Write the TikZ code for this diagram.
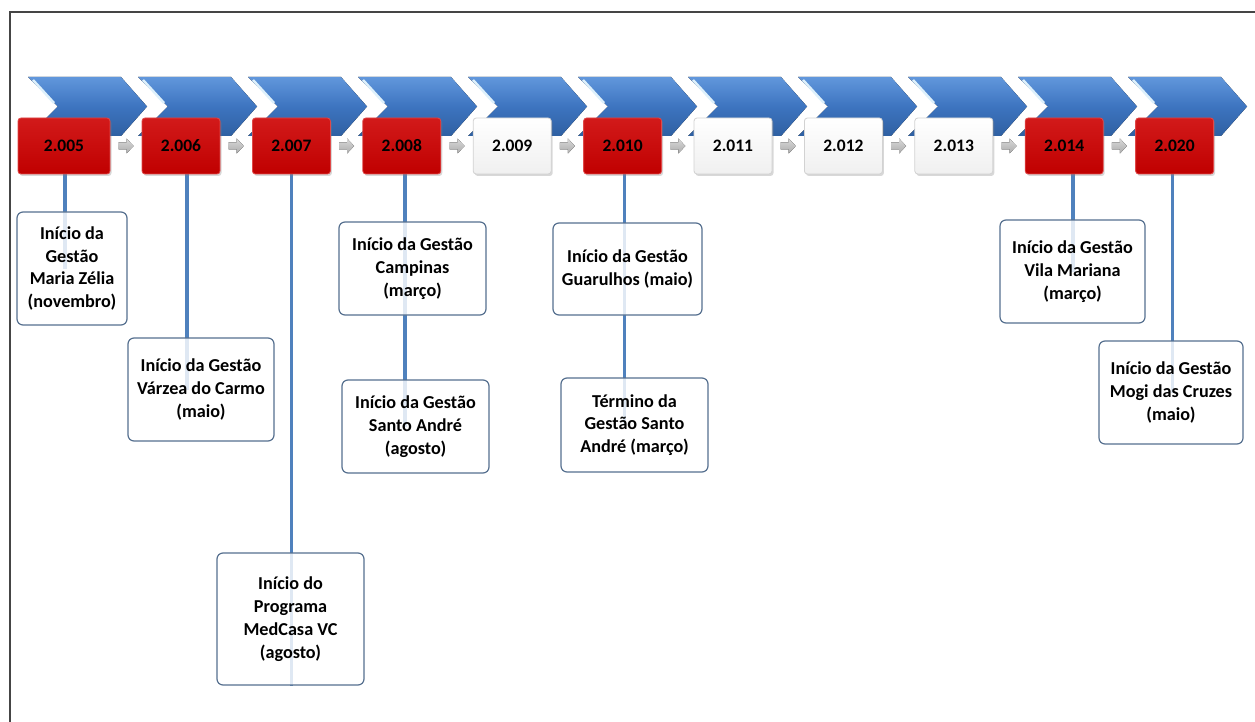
\documentclass[tikz,border=0pt]{standalone}
\usepackage{fontspec}
\setmainfont{Carlito}
\usetikzlibrary{shadows,backgrounds}

\definecolor{chevtop}{HTML}{6197DC}
\definecolor{chevmid}{HTML}{3D74C0}
\definecolor{chevbot}{HTML}{2F60A2}
\definecolor{chevshine}{HTML}{DDF0FB}
\definecolor{yearred}{HTML}{C00000}
\definecolor{yearredtop}{HTML}{D21A1A}
\definecolor{yearedge}{HTML}{E04848}
\definecolor{stemblue}{HTML}{4F81BD}
\definecolor{boxedge}{HTML}{56708F}
\definecolor{framegray}{HTML}{454545}

\tikzset{
  chevron/.style={top color=chevtop, bottom color=chevbot, middle color=chevmid},
  shine/.style={draw=chevshine, line width=2.5pt},
  yearbox/.style={rounded corners=3pt, minimum width=78pt, minimum height=56pt,
    font=\fontsize{17.5}{21}\selectfont\bfseries, text=black,
    drop shadow={shadow xshift=1.5pt, shadow yshift=-2pt, opacity=0.3}},
  redyear/.style={yearbox, top color=yearredtop, bottom color=yearred, draw=yearedge, line width=0.8pt},
  greyyear/.style={yearbox, top color=white, bottom color=gray!12, draw=gray!35, line width=0.8pt},
  nextarrow/.style={top color=gray!30, bottom color=gray!65},
  stem/.style={draw=stemblue, line width=3.6pt},
  event/.style={draw=boxedge, line width=1.2pt, rounded corners=6pt, fill=white,
    fill opacity=0.82, text opacity=1, align=center, inner sep=0pt,
    font=\fontsize{18.2}{22.8}\selectfont\bfseries},
}

\begin{document}
\begin{tikzpicture}[scale=1.000000,x=1pt,y=-1pt]
\useasboundingbox (0,0) rectangle (1255,722);
\begin{pgfonlayer}{background}
\fill[white] (0,0) rectangle (1255,722);
\end{pgfonlayer}
% Drawing frame
\draw[draw=framegray, line width=1.3pt] (10,722) -- (10,12) -- (1255,12);
% Drawing chevrons
\foreach \i in {0,...,10} {
  \pgfmathsetmacro\x{28+110*\i}
  \fill[chevron] (\x,77) -- ++(93,0) -- ++(26,29.5) -- ++(-26,29.5) -- ++(-93,0) -- ++(30,-29.5) -- cycle;
  \draw[shine] (\x+5,80) -- (\x+26,103);
}
% Drawing arrows between years
\foreach \a in {126,236.2,346.6,457,567.4,677.8,788.2,898.6,1009,1119.4}
  \fill[nextarrow] (\a-7.5,142.5) -- ++(8,0) -- ++(0,-4) -- ++(7,7.5) -- ++(-7,7.5) -- ++(0,-4) -- ++(-8,0) -- cycle;
% Drawing years
\node[redyear, minimum width=92pt] (y05) at (64,146) {2.005};
\node[redyear] (y06) at (181,146) {2.006};
\node[redyear] (y07) at (291.4,146) {2.007};
\node[redyear] (y08) at (401.8,146) {2.008};
\node[greyyear] (y09) at (512.2,146) {2.009};
\node[redyear] (y10) at (622.6,146) {2.010};
\node[greyyear] (y11) at (733,146) {2.011};
\node[greyyear] (y12) at (843.4,146) {2.012};
\node[greyyear] (y13) at (953.8,146) {2.013};
\node[redyear] (y14) at (1064.2,146) {2.014};
\node[redyear] (y20) at (1174.6,146) {2.020};
% Drawing events
\node[event, minimum width=110pt, minimum height=113pt] (t05) at (72,268.5) {Início da\\Gestão\\Maria Zélia\\(novembro)};
\node[event, minimum width=146pt, minimum height=103pt] (t06) at (201,389.5) {Início da Gestão\\Várzea do Carmo\\(maio)};
\node[event, minimum width=147pt, minimum height=132pt] (t07) at (290.5,619) {Início do\\Programa\\MedCasa VC\\(agosto)};
\node[event, minimum width=147pt, minimum height=93pt] (t08a) at (412.5,268.5) {Início da Gestão\\Campinas\\(março)};
\node[event, minimum width=147pt, minimum height=93pt] (t08b) at (415.5,426.5) {Início da Gestão\\Santo André\\(agosto)};
\node[event, minimum width=149pt, minimum height=92pt] (t10a) at (627.5,269) {Início da Gestão\\Guarulhos (maio)};
\node[event, minimum width=147pt, minimum height=94pt] (t10b) at (634.5,425) {Término da\\Gestão Santo\\André (março)};
\node[event, minimum width=145pt, minimum height=103pt] (t14) at (1072.5,271.5) {Início da Gestão\\Vila Mariana\\(março)};
\node[event, minimum width=144pt, minimum height=103pt] (t20) at (1171,392.5) {Início da Gestão\\Mogi das Cruzes\\(maio)};
% Drawing stems
\begin{pgfonlayer}{background}
\draw[stem] ([xshift=1pt]y05.south) -- ([xshift=1pt]y05.south |- t05.center);
\draw[stem] ([xshift=6pt]y06.south) -- ([xshift=6pt]y06.south |- t06.center);
\draw[stem] (y07.south) -- (y07.south |- t07.south);
\draw[stem] ([xshift=3pt]y08.south) -- ([xshift=3pt]y08.south |- t08b.center);
\draw[stem] ([xshift=2pt]y10.south) -- ([xshift=2pt]y10.south |- t10b.center);
\draw[stem] ([xshift=9pt]y14.south) -- ([xshift=9pt]y14.south |- t14.center);
\draw[stem] ([xshift=-2pt]y20.south) -- ([xshift=-2pt]y20.south |- t20.center);
\end{pgfonlayer}
\end{tikzpicture}
\end{document}
